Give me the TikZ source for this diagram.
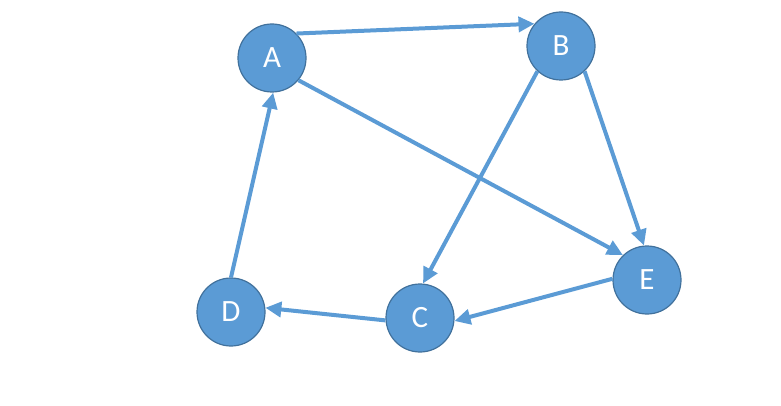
\documentclass[tikz,border=0pt]{standalone}
\usepackage{fontspec}
\setmainfont{Carlito}
\usepackage{tikz}
\usetikzlibrary{arrows.meta}
\definecolor{vtxFill}{HTML}{5B9BD5}
\definecolor{vtxLine}{HTML}{41719C}
\tikzset{
  vtx/.style={circle,draw=vtxLine,line width=1.2pt,fill=vtxFill,minimum size=68pt,
              inner sep=0pt,text=white,font=\fontsize{31}{33}\selectfont},
  arr/.style={-{Triangle[length=16pt,width=15pt]},line width=4pt,draw=vtxFill},
}
\begin{document}
\begin{tikzpicture}[x=1pt,y=-1pt]
  \useasboundingbox (0,0) rectangle (781,406);
  \node[vtx] (A) at (272,58) {A};
  \node[vtx] (B) at (561,46) {B};
  \node[vtx] (E) at (647,280) {E};
  \node[vtx] (C) at (420,318) {C};
  \node[vtx] (D) at (231,312) {D};

  \draw[arr] (A.45) -- (B.140);
  \draw[arr] (A.-40) -- (E.134);
  \draw[arr] (B.-47) -- (E.95);
  \draw[arr] (B.-133) -- (C.85);
  \draw[arr] (E.178) -- (C.-5);
  \draw[arr] (C.184) -- (D.7);
  \draw[arr] (D.90) -- (A.-88);
\end{tikzpicture}
\end{document}
